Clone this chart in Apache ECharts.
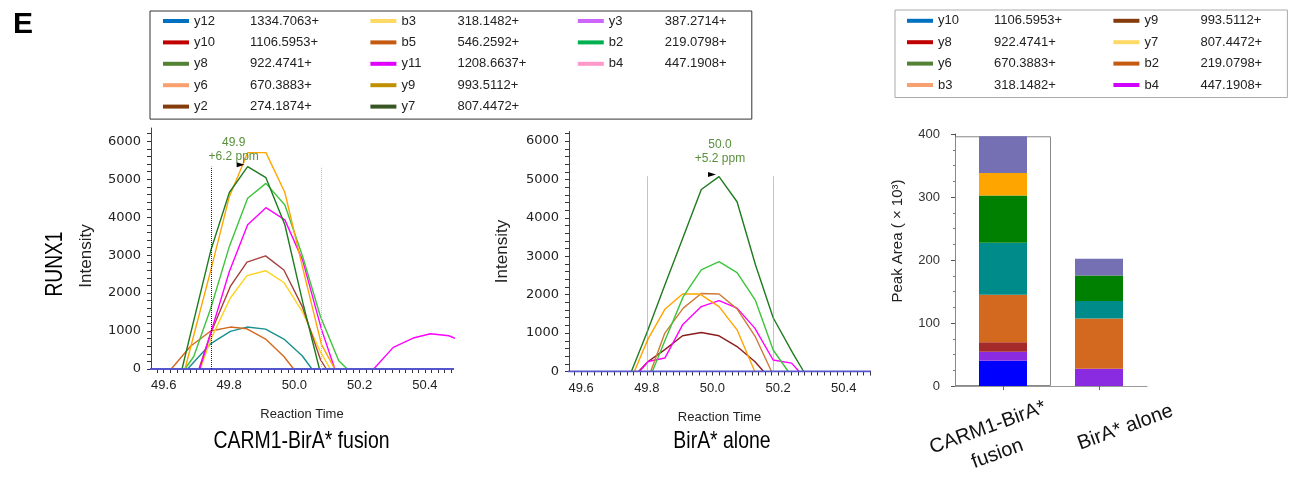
<!DOCTYPE html>
<html><head><meta charset="utf-8">
<script src="https://cdn.jsdelivr.net/npm/echarts@6/dist/echarts.min.js"></script>
<style>html,body{margin:0;padding:0;background:#fff}#c{width:1291px;height:477px}</style>
</head><body><div id="c"></div>
<script>
// ---------------- DATA ----------------
// Left chromatogram (CARM1-BirA* fusion): [retention time, intensity]
const fusionDarkGreen = [[49.656,0],[49.745,3150],[49.801,4650],[49.857,5330],[49.913,5040],[49.971,3800],[50.026,1750],[50.077,0]];
const fusionOrange    = [[49.665,0],[49.744,2600],[49.801,4540],[49.857,5700],[49.913,5700],[49.971,4650],[50.026,2650],[50.083,650],[50.124,0]];
const fusionLightGreen= [[49.665,0],[49.692,330],[49.744,1600],[49.801,3230],[49.857,4500],[49.913,4890],[49.971,4320],[50.026,2950],[50.080,1385],[50.136,220],[50.162,0]];
const fusionMagenta   = [[49.710,0],[49.744,950],[49.801,2570],[49.857,3800],[49.913,4250],[49.971,3930],[50.026,2850],[50.083,1050],[50.124,0],[50.243,0],[50.303,570],[50.364,816],[50.417,930],[50.473,876],[50.495,800]];
const fusionBrown     = [[49.708,0],[49.744,950],[49.804,2175],[49.855,2815],[49.912,2980],[49.968,2610],[50.024,1650],[50.080,250],[50.098,0]];
const fusionYellow    = [[49.712,0],[49.744,780],[49.804,1870],[49.855,2460],[49.912,2590],[49.968,2280],[50.024,1520],[50.080,450],[50.110,0]];
const fusionChocolate = [[49.623,0],[49.682,600],[49.744,1000],[49.804,1105],[49.855,1060],[49.912,790],[49.968,330],[49.998,0]];
const fusionTeal      = [[49.673,0],[49.743,660],[49.804,990],[49.855,1105],[49.912,1050],[49.968,790],[50.024,350],[50.054,0]];
const fusionBaseline  = [[49.50,0],[50.55,0]];
const fusionBounds    = [49.745, 50.083];
const fusionPeakText  = ['49.9', '+6.2 ppm'];

// Middle chromatogram (BirA* alone)
const aloneDarkGreen  = [[49.753,0],[49.800,1000],[49.855,2250],[49.911,3500],[49.966,4740],[50.020,5075],[50.075,4420],[50.131,2780],[50.185,1400],[50.246,460],[50.278,0]];
const aloneLightGreen = [[49.817,0],[49.855,800],[49.911,1950],[49.966,2645],[50.020,2860],[50.075,2575],[50.131,1850],[50.185,560],[50.231,0]];
const aloneOrange     = [[49.762,0],[49.804,850],[49.855,1620],[49.909,2020],[49.961,2020],[50.020,1690],[50.075,1085],[50.129,0]];
const aloneChocolate  = [[49.812,0],[49.855,1000],[49.911,1650],[49.966,2030],[50.020,2020],[50.075,1630],[50.131,900],[50.180,0]];
const aloneMagenta    = [[49.778,0],[49.804,260],[49.855,350],[49.909,1215],[49.966,1690],[50.020,1847],[50.075,1650],[50.129,1130],[50.185,300],[50.241,218],[50.264,0]];
const aloneDarkRed    = [[49.775,0],[49.804,260],[49.855,570],[49.909,930],[49.966,1014],[50.020,930],[50.075,650],[50.129,260],[50.156,0]];
const aloneBaseline   = [[49.50,0],[50.55,0]];
const aloneBounds     = [49.800, 50.185];
const alonePeakText   = ['50.0', '+5.2 ppm'];

// Axis tick labels
const rtLabels   = [49.6, 49.8, 50.0, 50.2, 50.4];
const intLabels  = [0, 1000, 2000, 3000, 4000, 5000, 6000];

// Peak area stacked bars (x10^3)
const barCategories = ['CARM1-BirA*\nfusion', 'BirA* alone'];
const barSegNames   = ['y10', 'b4', 'y8', 'b2', 'y6', 'y7', 'y9', 'b3'];
const fusionAreas   = [40.2, 14.3, 15.0, 75.2, 82.6, 75.2, 35.7, 58.2];
const aloneAreas    = [0, 27.5, 0, 79.5, 28.1, 40.3, 0, 26.5];

// Legends
const legendANames = ['y12','y10','y8','y6','y2','b3','b5','y11','y9','y7','y3','b2','b4'];
const legendAMz    = ['1334.7063+','1106.5953+','922.4741+','670.3883+','274.1874+','318.1482+','546.2592+','1208.6637+','993.5112+','807.4472+','387.2714+','219.0798+','447.1908+'];
const legendBNames = ['y10','y8','y6','b3','y9','y7','b2','b4'];
const legendBMz    = ['1106.5953+','922.4741+','670.3883+','318.1482+','993.5112+','807.4472+','219.0798+','447.1908+'];

// Panel texts
const panelTitles = ['CARM1-BirA* fusion', 'BirA* alone'];
const proteinName = 'RUNX1';

// ---------------- STYLES ----------------
const legendAColors = ['#0070C0','#C00000','#548235','#F8A070','#843C0C','#FFD966','#C55A11','#E000FF','#BF9000','#375623','#CC66FF','#00B050','#FF99CC'];
const legendBColors = ['#0070C0','#C00000','#548235','#F8A070','#843C0C','#FFD966','#C55A11','#D000FF'];
const barColors     = ['#0000FF','#8A2BE2','#A52A2A','#D2691E','#008B8B','#008000','#FFA500','#7570B3'];

const SANS = '"Liberation Sans",Arial,sans-serif';
const DEJAVU = '"DejaVu Sans",sans-serif';

function range(a, b, s) { const out = []; for (let v = a; v <= b + 1e-9; v += s) out.push(Math.round(v * 1000) / 1000); return out; }
const rtTicks  = range(49.58, 50.48, 0.02);
const intTicks = range(0, 6200, 200);

function peakOf(d) { let p = d[0]; d.forEach(q => { if (q[1] > p[1]) p = q; }); return p; }

function lineSeries(name, data, color, idx, extra) {
  return Object.assign({
    type: 'line', name, data, xAxisIndex: idx, yAxisIndex: idx,
    symbol: 'none', showSymbol: false, clip: true, silent: true,
    lineStyle: { color, width: 1.4 }, itemStyle: { color }, z: 2
  }, extra || {});
}

function peakMarks(data, bounds, texts, boundColors, labelOffset) {
  const pk = peakOf(data);
  return {
    markPoint: {
      silent: true, animation: false,
      data: [
        { coord: pk, symbol: 'triangle', symbolRotate: -90, symbolSize: [5, 8], symbolOffset: [-7, -2],
          itemStyle: { color: '#000' }, label: { show: false } },
        { coord: pk, symbol: 'circle', symbolSize: 1, itemStyle: { color: 'rgba(0,0,0,0)' },
          label: { show: true, position: 'top', distance: 3, offset: labelOffset, formatter: texts.join('\n'),
                   color: '#5a8f3c', fontFamily: SANS, fontSize: 12, lineHeight: 14, align: 'center' } }
      ]
    },
    markLine: {
      silent: true, animation: false, symbol: ['none', 'none'], label: { show: false },
      data: bounds.map((b, i) => [
        { coord: [b, 0], lineStyle: { color: boundColors[i], type: 'dotted', width: 1 } },
        { coord: [b, pk[1]] }
      ])
    }
  };
}

function rtAxis(gridIndex, min, max) {
  return {
    type: 'value', gridIndex, min, max, position: 'bottom',
    name: 'Reaction Time', nameLocation: 'middle', nameGap: 39,
    nameTextStyle: { fontFamily: SANS, fontSize: 13, color: '#222' },
    axisLine: { show: true, lineStyle: { color: '#444', width: 1 } },
    axisTick: { show: true, length: 4, customValues: rtTicks, lineStyle: { color: '#333' } },
    axisLabel: { customValues: rtLabels, formatter: v => v.toFixed(1), fontFamily: SANS, fontSize: 13, color: '#222', margin: 10 },
    splitLine: { show: false }
  };
}
function intAxis(gridIndex, max, namePad) {
  return {
    type: 'value', gridIndex, min: 0, max,
    name: 'Intensity', nameLocation: 'middle', nameGap: 56,
    nameTextStyle: { fontFamily: SANS, fontSize: 17, color: '#222', padding: namePad },
    axisLine: { show: true, lineStyle: { color: '#444', width: 1 } },
    axisTick: { show: true, length: 4, customValues: intTicks, lineStyle: { color: '#333' } },
    axisLabel: { customValues: intLabels, formatter: v => String(v), fontFamily: DEJAVU, fontSize: 13, color: '#222', margin: 10 },
    splitLine: { show: false }
  };
}

// ---------------- OPTION ----------------
const series = [];
// left chromatogram
series.push(lineSeries('f-teal', fusionTeal, '#1A9090', 0));
series.push(lineSeries('f-choc', fusionChocolate, '#D2691E', 0));
series.push(lineSeries('f-yellow', fusionYellow, '#FFD21F', 0));
series.push(lineSeries('f-brown', fusionBrown, '#A5403C', 0));
series.push(lineSeries('f-magenta', fusionMagenta, '#FF00FF', 0));
series.push(lineSeries('f-lgreen', fusionLightGreen, '#3CC43C', 0));
series.push(lineSeries('f-orange', fusionOrange, '#FFA500', 0));
series.push(lineSeries('f-dgreen', fusionDarkGreen, '#1E7B1E', 0,
  peakMarks(fusionDarkGreen, fusionBounds, fusionPeakText, ['#222', '#bbb'], [-14, 0])));
series.push(lineSeries('f-base', fusionBaseline, '#5555CC', 0, { lineStyle: { color: '#5555CC', width: 2 }, z: 3 }));
// middle chromatogram
series.push(lineSeries('a-dred', aloneDarkRed, '#8B1C1C', 1));
series.push(lineSeries('a-magenta', aloneMagenta, '#FF00FF', 1));
series.push(lineSeries('a-choc', aloneChocolate, '#CD7A3A', 1));
series.push(lineSeries('a-orange', aloneOrange, '#FFA500', 1));
series.push(lineSeries('a-lgreen', aloneLightGreen, '#3CC43C', 1));
series.push(lineSeries('a-dgreen', aloneDarkGreen, '#1E7B1E', 1,
  peakMarks(aloneDarkGreen, aloneBounds, alonePeakText, ['#888', '#888'], [1, -7])));
series.push(lineSeries('a-base', aloneBaseline, '#5555CC', 1, { lineStyle: { color: '#5555CC', width: 2 }, z: 3 }));

// bar frame (first category outline)
const fusionTotal = fusionAreas.reduce((a, b) => a + b, 0);
series.push({
  type: 'bar', name: 'frame', xAxisIndex: 3, yAxisIndex: 2, barWidth: '100%', silent: true, z: 1,
  data: [fusionTotal, '-'],
  itemStyle: { color: 'rgba(0,0,0,0)', borderColor: '#888', borderWidth: 1 }
});
// stacked bars
barSegNames.forEach((n, i) => {
  series.push({
    type: 'bar', name: 'bar-' + n, stack: 'area', xAxisIndex: 2, yAxisIndex: 2, barWidth: '50%', silent: true, z: 2,
    data: [fusionAreas[i], aloneAreas[i]], itemStyle: { color: barColors[i] }
  });
});
// legend carrier series
legendANames.forEach((n, i) => series.push({ type: 'line', name: 'A|' + n, data: [], xAxisIndex: 0, yAxisIndex: 0,
  itemStyle: { color: legendAColors[i] }, lineStyle: { color: legendAColors[i] } }));
legendBNames.forEach((n, i) => series.push({ type: 'line', name: 'B|' + n, data: [], xAxisIndex: 0, yAxisIndex: 0,
  itemStyle: { color: legendBColors[i] }, lineStyle: { color: legendBColors[i] } }));

function legendCfg(prefix, names, mz, rows, left, top, height, mWidth, borderColor, padding) {
  return {
    type: 'plain', orient: 'vertical', left, top, height, padding,
    itemGap: 8.4, itemWidth: 26, itemHeight: 4, icon: 'rect', selectedMode: false,
    borderColor, borderWidth: 1,
    itemStyle: { borderWidth: 0 },
    data: names.map(n => prefix + '|' + n),
    formatter: name => {
      const n = name.split('|')[1];
      const i = names.indexOf(n);
      const col = Math.floor(i / rows);
      const last = col === Math.floor((names.length - 1) / rows);
      return '{n|' + n + '}{' + (last ? 'm3' : 'm') + '|' + mz[i] + '}';
    },
    textStyle: {
      fontFamily: SANS, fontSize: 13, color: '#222',
      rich: {
        n: { width: 56, fontFamily: SANS, fontSize: 13, lineHeight: 14, color: '#222' },
        m: { width: mWidth, fontFamily: SANS, fontSize: 13, lineHeight: 14, color: '#222' },
        m3: { width: 70, fontFamily: SANS, fontSize: 13, lineHeight: 14, color: '#222' }
      }
    }
  };
}

const textStyleTitle = { font: '24px ' + SANS, fill: '#000', align: 'center', verticalAlign: 'middle' };

const option = {
  animation: false,
  backgroundColor: '#fff',
  title: [
    { text: 'E', left: 8, top: 5, textStyle: { fontSize: 30, fontWeight: 'bold', fontFamily: SANS, color: '#000' } }
  ],
  graphic: [
    { type: 'text', x: 55, y: 264, rotation: Math.PI / 2, scaleX: 0.8, silent: true,
      style: Object.assign({ text: proteinName }, textStyleTitle) },
    { type: 'text', x: 301.5, y: 441, scaleX: 0.81, silent: true,
      style: Object.assign({ text: panelTitles[0] }, textStyleTitle) },
    { type: 'text', x: 722, y: 441, scaleX: 0.81, silent: true,
      style: Object.assign({ text: panelTitles[1] }, textStyleTitle) }
  ],
  legend: [
    legendCfg('A', legendANames, legendAMz, 5, 150, 11, 110, 112, '#333', [3.5, 17, 6, 13]),
    legendCfg('B', legendBNames, legendBMz, 4, 895, 10, 90, 111, '#aaa', [4.3, 17, 6, 12])
  ],
  grid: [
    { left: 151, top: 128, width: 302, height: 241, outerBoundsMode: 'none' },
    { left: 569, top: 131.5, width: 301, height: 240, outerBoundsMode: 'none' },
    { left: 955, top: 134, width: 192, height: 252, outerBoundsMode: 'none' }
  ],
  xAxis: [
    rtAxis(0, 49.561, 50.486),
    rtAxis(1, 49.563, 50.480),
    { type: 'category', gridIndex: 2, data: barCategories,
      axisLine: { show: true, lineStyle: { color: '#999' } },
      axisTick: { show: true, alignWithLabel: true, length: 4, lineStyle: { color: '#666' } },
      axisLabel: {
        interval: 0, rotate: 20, align: 'center', verticalAlign: 'middle', margin: 51,
        formatter: (v, i) => '{' + (i === 0 ? 'c1' : 'c2') + '|' + v + '}',
        rich: {
          c1: { fontFamily: SANS, fontSize: 20, lineHeight: 28, color: '#111', padding: [0, 22, 0, 0] },
          c2: { fontFamily: SANS, fontSize: 20, lineHeight: 28, color: '#111', padding: [0, 0, 0, 56] }
        }
      } },
    { type: 'category', gridIndex: 2, data: barCategories, show: false }
  ],
  yAxis: [
    intAxis(0, 6350, [0, 15, 0, 0]),
    Object.assign(intAxis(1, 6250, [0, 0, 0, 0]), { nameGap: 58 }),
    { type: 'value', gridIndex: 2, min: 0, max: 400, interval: 100,
      name: 'Peak Area ( × 10³)', nameLocation: 'middle', nameGap: 50,
      nameTextStyle: { fontFamily: SANS, fontSize: 15, color: '#222', padding: [0, 0, 0, 38] },
      axisLine: { show: true, lineStyle: { color: '#555' } },
      axisTick: { show: true, length: 4, lineStyle: { color: '#555' } },
      minorTick: { show: true, splitNumber: 4, length: 2, lineStyle: { color: '#777' } },
      axisLabel: { fontFamily: SANS, fontSize: 13, color: '#333', margin: 15 },
      splitLine: { show: false } }
  ],
  series
};

const chart = echarts.init(document.getElementById('c'), null, { renderer: 'canvas', width: 1291, height: 477 });
chart.setOption(option);
</script></body></html>
